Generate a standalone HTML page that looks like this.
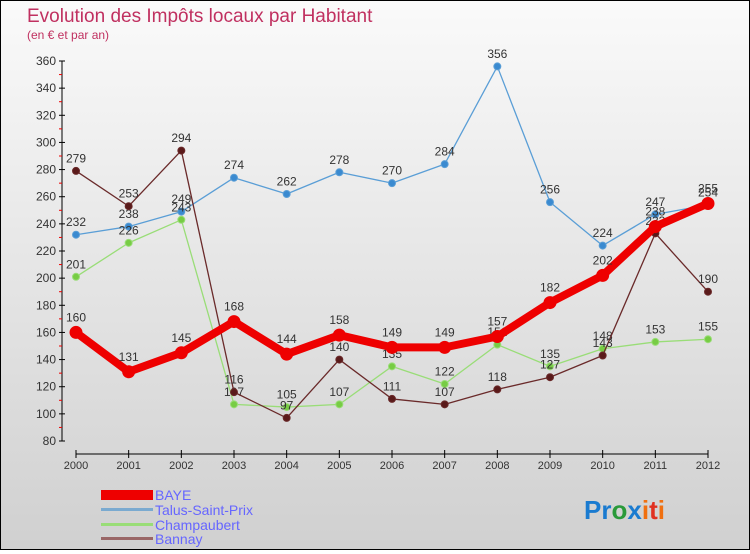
<!DOCTYPE html>
<html><head><meta charset="utf-8"><style>
body{margin:0;width:750px;height:550px;overflow:hidden}
#c{position:relative;width:748px;height:548px;border:1px solid #000;background:linear-gradient(#fafafa,#d0d0d0);font-family:"Liberation Sans",sans-serif}
</style></head><body>
<div id="c">
<svg width="748" height="548" id="s">
<text x="26" y="21" font-size="19" fill="#c03060">Evolution des Impôts locaux par Habitant</text>
<text x="26" y="38" font-size="12" fill="#c03060">(en € et par an)</text>
<g id="ax"></g><g id="ser"></g>
<g>
<rect x="100" y="489" width="52" height="10" fill="#e00"/>
<text x="154" y="499" font-size="14" fill="#66f">BAYE</text>
<rect x="100" y="507" width="52" height="3" fill="#7aaad0"/>
<text x="154" y="514" font-size="14" fill="#66f">Talus-Saint-Prix</text>
<rect x="100" y="522" width="52" height="3" fill="#99dd77"/>
<text x="154" y="529" font-size="14" fill="#66f">Champaubert</text>
<rect x="100" y="536" width="52" height="3" fill="#996666"/>
<text x="154" y="543" font-size="14" fill="#66f">Bannay</text>
</g>
<text x="583" y="518" font-size="26" font-weight="bold"><tspan fill="#1a7bd0">Pr</tspan><tspan fill="#2a9a3a">o</tspan><tspan fill="#1a7bd0">x</tspan><tspan fill="#f07010">i</tspan><tspan fill="#e03020">t</tspan><tspan fill="#f07010">i</tspan></text>
</svg></div>
<script>
const years=[2000,2001,2002,2003,2004,2005,2006,2007,2008,2009,2010,2011,2012];
const yTicks=[80,100,120,140,160,180,200,220,240,260,280,300,320,340,360];
const baye=[160,131,145,168,144,158,149,149,157,182,202,238,255];
const talus=[232,238,249,274,262,278,270,284,356,256,224,247,254];
const champ=[201,226,243,107,105,107,135,122,151,135,148,153,155];
const bannay=[279,253,294,116,97,140,111,107,118,127,143,233,190];
const NS="http://www.w3.org/2000/svg";
const X=i=>75+i*(632/12), Y=v=>440-(v-80)*(380/280);
function mk(t,a,p){const e=document.createElementNS(NS,t);for(const k in a)e.setAttribute(k,a[k]);p.appendChild(e);return e;}
const ax=document.getElementById('ax'),ser=document.getElementById('ser');
const yl=mk('line',{x1:61,y1:60,x2:61,y2:440,stroke:'#000'},ax);


const xl=mk('line',{x1:75,y1:453,x2:707,y2:453,stroke:'#000'},ax);


yTicks.forEach(v=>{mk('line',{x1:58,x2:64,y1:Y(v),y2:Y(v),stroke:'#000'},ax);
if(v<360)mk('line',{x1:58,x2:61,y1:Y(v+10),y2:Y(v+10),stroke:'#e00'},ax);
const t=mk('text',{x:55,y:Y(v)+4,'text-anchor':'end','font-size':12,fill:'#333'},ax);t.textContent=v;

});
years.forEach((y,i)=>{mk('line',{x1:X(i),x2:X(i),y1:449,y2:457,stroke:'#000'},ax);
const t=mk('text',{x:X(i),y:468,'text-anchor':'middle','font-size':11,fill:'#333'},ax);t.textContent=y;

});
function series(d,col,w,r,name,dot){
const g=mk('g',{},ser);


mk('polyline',{points:d.map((v,i)=>X(i)+','+Y(v)).join(' '),fill:'none',stroke:col,'stroke-width':w,'stroke-linejoin':'round'},g);
d.forEach((v,i)=>{const c=mk('circle',{cx:X(i),cy:Y(v),r:r,fill:dot,stroke:col,'stroke-width':1},g);


const t=mk('text',{x:X(i),y:Y(v)-(r+5),'text-anchor':'middle','font-size':12,fill:'#333'},g);t.textContent=v;

});}
series(talus,'#5a9ed6',1.3,3.5,'talus','#3a8ad0');
series(champ,'#99dd77',1.3,3.5,'champaubert','#77cc44');
series(bannay,'#6a2a2a',1.3,3.5,'bannay','#5a1a1a');
series(baye,'#ee0000',8,6,'baye','#ee0000');
</script></body></html>
